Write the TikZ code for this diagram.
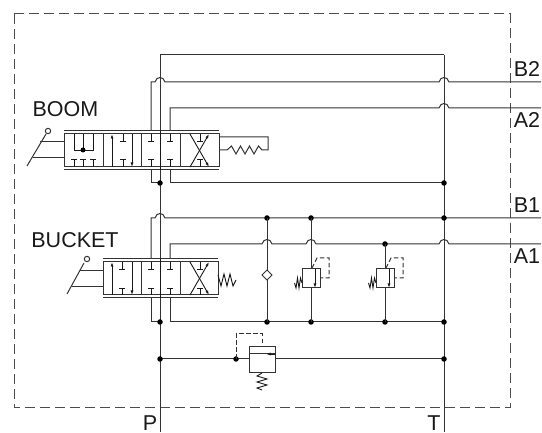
\documentclass[tikz,border=0pt]{standalone}
\usepackage{fontspec}
\setmainfont{Liberation Sans}
\usetikzlibrary{arrows.meta}
\tikzset{
  line/.style={line width=1pt,draw=black!80},
  thin line/.style={line width=0.9pt,draw=black!90},
  pilot/.style={line width=1pt,draw=black!80,dash pattern=on 4.5pt off 2.5pt},
  border/.style={line width=1pt,draw=black!70,dash pattern=on 10pt off 5pt},
  dot/.style={circle,fill=black,inner sep=0pt,minimum size=5.5pt},
  lbl/.style={font=\fontsize{21.5}{23}\selectfont,inner sep=0pt,text=black!90},
  tip/.style={-{Latex[length=4.5pt,width=3pt]}}
}
\newcommand{\hop}[2]{-- ({#1-5},#2) .. controls ({#1-3.5},{#2-6}) and ({#1+3.5},{#2-6}) .. ({#1+5},#2)}
% T mark hanging down from the top edge: x, edge y, bar y
\newcommand{\teemark}[3]{\draw[thin line] (#1,#2) -- (#1,#3) ({#1-3},#3) -- ({#1+3},#3);}
\begin{document}
\begin{tikzpicture}[x=1pt,y=-1pt]
\useasboundingbox (0,0) rectangle (542,433);
\draw[border] (14,14) rectangle (510,408);

% main lines
\draw[line] (160,55) -- (444,55);
\draw[line] (160,55) -- (160,432);
\draw[line] (444,55) -- (444,432);
\draw[line] (151,170) -- (151,183) -- (160,183);
\draw[line] (151,298) -- (151,322) -- (160,322);
\draw[line] (170,170) -- (170,183) -- (444,183);
\draw[line] (170,298) -- (170,322) -- (444,322);
\draw[line] (160,359) -- (249,359);
\draw[line] (275,359) -- (444,359);
\draw[line] (151,131) -- (151,82) -- (155,82) \hop{160}{82} \hop{444}{82} -- (541,82);
\draw[line] (170,131) -- (170,108) \hop{444}{108} -- (541,108);
\draw[line] (151,259) -- (151,218) \hop{160}{218} -- (541,218);
\draw[line] (170,259) -- (170,244) \hop{267}{244} \hop{311}{244} \hop{444}{244} -- (541,244);

% junctions
\node[dot] (j1) at (160,183) {};
\node[dot] (j2) at (444,183) {};
\node[dot] (j3) at (444,218) {};
\node[dot] (j4) at (160,322) {};
\node[dot] (j5) at (267,218) {};
\node[dot] (j6) at (311,218) {};
\node[dot] (j7) at (385,244) {};
\node[dot] (j8) at (267,322) {};
\node[dot] (j9) at (311,322) {};
\node[dot] (j10) at (385,322) {};
\node[dot] (j11) at (444,322) {};
\node[dot] (j12) at (160,359) {};
\node[dot] (j13) at (444,359) {};
\node[dot] (j14) at (236,359) {};

% BOOM valve
\draw[line] (64,131) -- (219,131) (64,170) -- (219,170);
\draw[fill=white,line] (64,134) rectangle (219,167);
\draw[line] (103,134) -- (103,167) (141,134) -- (141,167) (180,134) -- (180,167);
\draw[thin line] (160,131) -- (160,170);
\draw[thin line] (74,134) -- (74,150) -- (93,150) -- (93,134) (83,134) -- (83,150);
\node[dot,minimum size=5pt] (b1) at (83,150) {};
\foreach \x in {74,83,93} {\teemark{\x}{167}{159}}
\draw[thin line,tip] (112,167) -- (112,134);
\draw[thin line,tip] (132,134) -- (132,167);
\teemark{123}{134}{141}\teemark{123}{167}{159}
\teemark{151}{134}{141}\teemark{151}{167}{159}
\teemark{170}{134}{141}\teemark{170}{167}{159}
\teemark{200}{134}{141}\teemark{200}{167}{159}
\draw[thin line,tip] (190,167) -- (209,134);
\draw[thin line,tip] (190,134) -- (209,167);
\draw[line] (219,137) -- (268,137) -- (268,150) -- (262,150) -- (258.5,146) -- (254,154) -- (249.5,146) -- (245,154) -- (240.5,146) -- (236,154) -- (231.5,146) -- (227,150) -- (219,150);
\draw[line] (27,166) -- (46,134);
\draw[line] (40,142) -- (64,142) (33,158) -- (64,158);
\draw[line,fill=white] (48,131) circle (2.7);

% BUCKET valve
\draw[line] (103,259) -- (218,259) (103,298) -- (218,298);
\draw[fill=white,line] (103,262) rectangle (218,295);
\draw[line] (141,262) -- (141,295) (180,262) -- (180,295);
\draw[thin line] (160,259) -- (160,298);
\draw[thin line,tip] (112,295) -- (112,262);
\draw[thin line,tip] (132,262) -- (132,295);
\teemark{122}{262}{269}\teemark{122}{295}{288}
\teemark{151}{262}{269}\teemark{151}{295}{288}
\teemark{170}{262}{269}\teemark{170}{295}{288}
\teemark{200}{262}{269}\teemark{200}{295}{288}
\draw[thin line,tip] (190,295) -- (209,262);
\draw[thin line,tip] (190,262) -- (209,295);
\draw[thin line] (218,275) -- (221,286) -- (224,274) -- (227,286) -- (230,274) -- (233,286) -- (236,280);
\draw[line] (67,294) -- (84,263);
\draw[line] (80,271) -- (103,271) (72,287) -- (103,287);
\draw[line,fill=white] (87,259) circle (2.7);

% check valve branch
\draw[line] (267,218) -- (267,322);
\draw[line,fill=white] (267,270) -- (272,275) -- (267,280) -- (262,275) -- cycle;

% relief valves
\foreach \vx/\ty in {311/218,385/244} {
  \draw[line] (\vx,\ty) -- (\vx,322);
  \draw[line,fill=white] ({\vx-9},269) rectangle ({\vx+9},288);
  \draw[thin line,tip] ({\vx+4},269) -- ({\vx+4},288);
  \draw[pilot] ({\vx+1},268) -- ({\vx+6},258) -- ({\vx+18},258) -- ({\vx+18},278) -- ({\vx+9},278);
  \draw[thin line] ({\vx-9},283) -- ({\vx-10.5},278) -- ({\vx-12},288) -- ({\vx-13.5},278) -- ({\vx-15},288) -- ({\vx-16.5},283);
}

% pressure valve
\draw[line,fill=white] (249,347) rectangle (275,373);
\draw[line] (249,354) -- (275,354);
\draw[thin line,tip] (275,354) -- (266,354);
\draw[pilot] (236,359) -- (236,334) -- (262,334) -- (262,347);
\draw[thin line] (262,373) -- (257,376) -- (267,379) -- (257,382) -- (267,385) -- (257,388) -- (262,390);

% labels
\node[lbl] (boom) at (65.5,109) {BOOM};
\node[lbl] (bucket) at (75,240) {BUCKET};
\node[lbl] (b2) at (527,69) {B2};
\node[lbl] (a2) at (527,120) {A2};
\node[lbl] (b1l) at (527,205) {B1};
\node[lbl] (a1) at (527,256) {A1};
\node[lbl] (p) at (150,423) {P};
\node[lbl] (t) at (434,423) {T};
\end{tikzpicture}
\end{document}
